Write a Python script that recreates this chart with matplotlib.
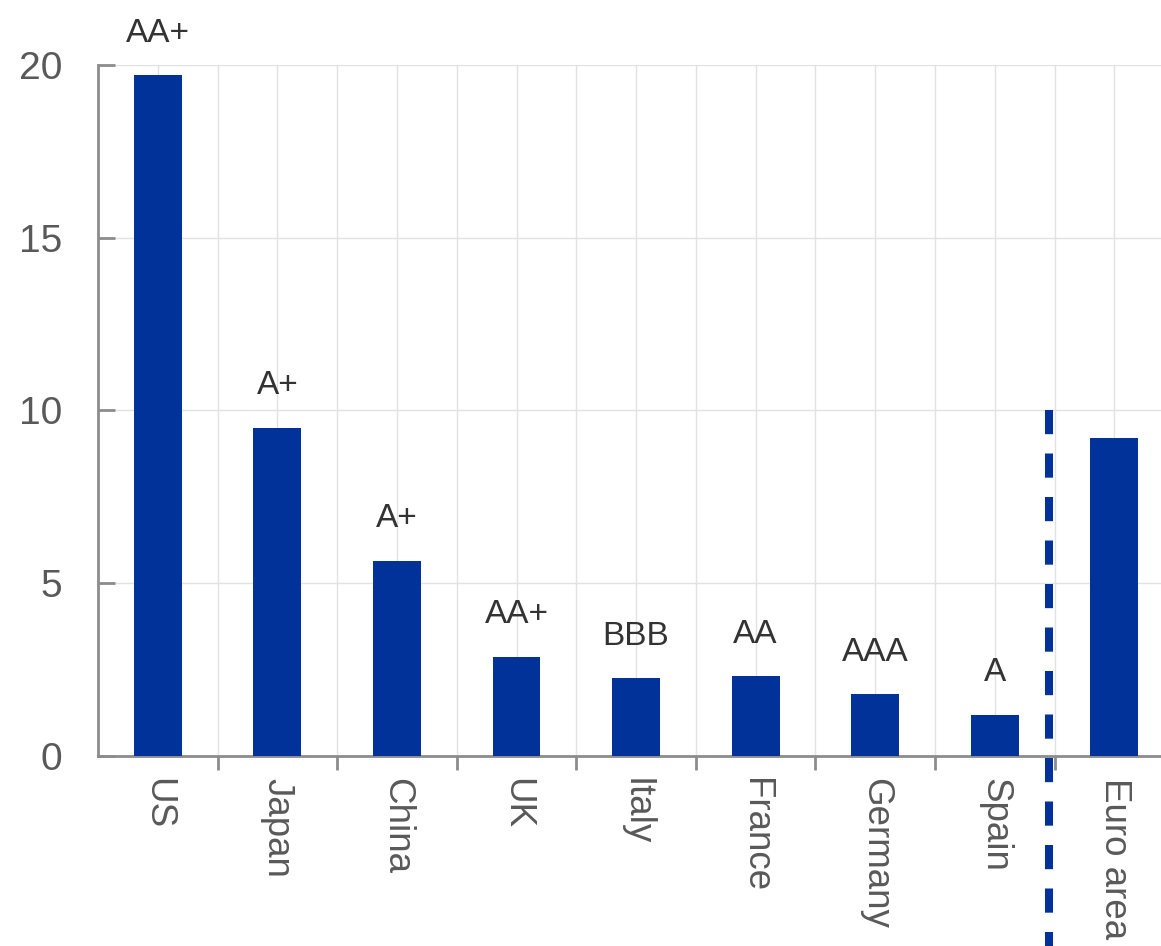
import matplotlib
matplotlib.use("Agg")
import matplotlib.pyplot as plt
import numpy as np

# data
countries = ["US", "Japan", "China", "UK", "Italy", "France", "Germany", "Spain", "Euro area"]
values = [19.7, 9.5, 5.65, 2.87, 2.26, 2.31, 1.79, 1.19, 9.2]
ratings = ["AA+", "A+", "A+", "AA+", "BBB", "AA", "AAA", "A", ""]
yticks = [0, 5, 10, 15, 20]

BLUE = "#003299"
GRID = "#e2e2e2"
AXIS = "#8c8c8c"
TXT = "#595959"

plt.rcParams["font.family"] = ["Liberation Sans", "DejaVu Sans"]

fig = plt.figure(figsize=(11.61, 9.46), dpi=100)
ax = fig.add_axes([98 / 1161, 1 - 756 / 946, 1 - 98 / 1161, (756 - 65) / 946])

x = np.arange(len(countries))
ax.bar(x, values, width=0.4, color=BLUE, zorder=3)

# ratings above the bars
for xi, v, r in zip(x, values, ratings):
    if r:
        ax.annotate(r, (xi, v), xytext=(0, 19), textcoords="offset points",
                    ha="center", va="bottom", fontsize=24, color="#333333")

ax.set_xlim(-0.5, 8.39)
ax.set_ylim(0, 20)

# gridlines at centres and boundaries
for g in np.arange(0, len(countries), 0.5):
    ax.axvline(g, color=GRID, lw=1, zorder=0)
for t in yticks[1:]:
    ax.axhline(t, color=GRID, lw=1, zorder=0)

# separator between countries and euro area
ax.plot([7.45, 7.45], [10, -6.5], color=BLUE, lw=5.8, ls=(0, (3, 2.4)),
        clip_on=False, zorder=4)

ax.set_yticks(yticks)
ax.set_yticklabels([str(t) for t in yticks])
ax.tick_params(axis="y", direction="in", length=12, width=2, color=AXIS,
               labelsize=28, labelcolor=TXT, pad=26)

ax.set_xticks(x[:-1] + 0.5)
ax.set_xticklabels([])
ax.set_xticks(x, minor=True)
ax.set_xticklabels(countries, minor=True, rotation=270, ha="center", va="top")
ax.tick_params(axis="x", which="major", direction="out", length=10, width=2, color=AXIS)
ax.tick_params(axis="x", which="minor", length=0, labelsize=26.5, labelcolor=TXT, pad=16)

for s in ["top", "right"]:
    ax.spines[s].set_visible(False)
for s in ["left", "bottom"]:
    ax.spines[s].set_color(AXIS)
    ax.spines[s].set_linewidth(2)

fig.savefig("out.png", dpi=100)
